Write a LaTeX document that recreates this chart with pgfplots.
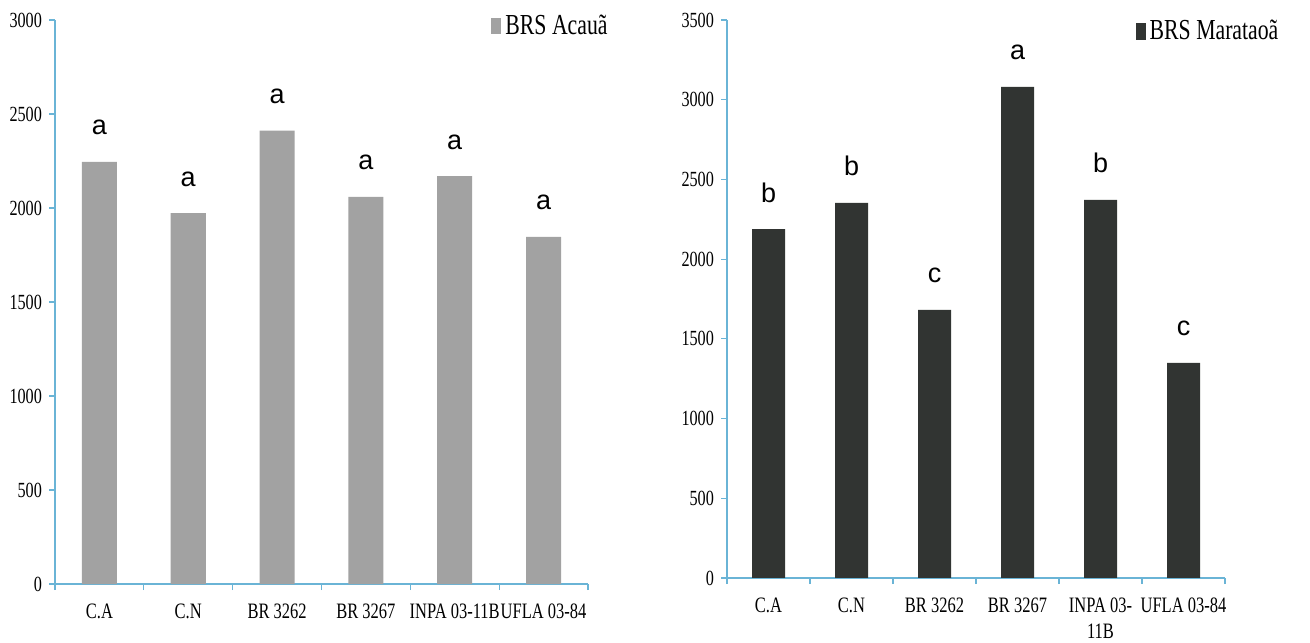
\documentclass[border=0pt]{standalone}
\usepackage{fontspec}
\setmainfont{Liberation Serif}[FakeStretch=0.75]
\newfontfamily\lettfont{Liberation Sans}
\usepackage{pgfplots}
\pgfplotsset{compat=1.18}
\definecolor{axisblue}{HTML}{6AB4D6}
\definecolor{lightbar}{HTML}{A2A2A2}
\definecolor{darkbar}{HTML}{313432}
\pgfplotsset{
  mystyle/.style={
    scale only axis,
    anchor=south west,
    axis x line*=bottom, axis y line*=left,
    axis line style={axisblue, line width=0.7pt},
    tick style={axisblue, line width=0.6pt},
    /pgf/number format/assume math mode=true,
    /pgf/number format/1000 sep={},
    xmin=0.5, xmax=6.5, ymin=0,
    xtick={0.5,1.5,...,6.5},
    xticklabels={},
    major tick length=3pt,
    tick align=outside,
    extra x ticks={1,2,3,4,5,6},
    extra x tick style={major tick length=0pt, xticklabel style={yshift=-6.5pt}},
    xticklabel style={font=\fontsize{11}{13}\selectfont, align=center, text=black},
    yticklabel style={font=\fontsize{10.8}{12}\selectfont, text=black},
    legend style={draw=none, fill=none, inner sep=0pt, anchor=north east,
      font=\fontsize{14.5}{16}\selectfont, legend cell align=left},
    every node near coord/.append style={anchor=base, yshift=13.5pt, text=black,
      font=\lettfont\fontsize{13.5}{15}\selectfont},
  }
}
\begin{document}
\begin{tikzpicture}
\useasboundingbox (0,0) rectangle (655pt,321pt);
% Left chart
\begin{axis}[mystyle,
  at={(27.5pt,29pt)}, width=266.5pt, height=282pt,
  ymax=3000, ytick={0,500,...,3000},
  extra x tick labels={C.A, C.N, BR 3262, BR 3267, INPA 03-11B, UFLA 03-84},
  legend style={at={(1.045,1.017)}},
  legend image code/.code={\fill[lightbar] (0pt,-4.2pt) rectangle (5pt,4.2pt);},
]
\addplot[ybar, bar width=17.5pt, fill=lightbar, draw=none,
  nodes near coords, point meta=explicit symbolic]
  coordinates {(1,2245)[a] (2,1973)[a] (3,2412)[a] (4,2059)[a] (5,2170)[a] (6,1846)[a]};
\addlegendentry{BRS Acauã}
\end{axis}
% Right chart
\begin{axis}[mystyle,
  at={(363.5pt,32pt)}, width=249pt, height=279pt,
  ymax=3500, ytick={0,500,...,3500},
  extra x tick labels={C.A, C.N, BR 3262, BR 3267, {INPA 03-\\11B}, UFLA 03-84},
  legend style={at={(1.116,1.008)}},
  legend image code/.code={\fill[darkbar] (0pt,-4.2pt) rectangle (5pt,4.2pt);},
]
\addplot[ybar, bar width=16.5pt, fill=darkbar, draw=none,
  nodes near coords, point meta=explicit symbolic]
  coordinates {(1,2189)[b] (2,2353)[b] (3,1681)[c] (4,3080)[a] (5,2371)[b] (6,1349)[c]};
\addlegendentry{BRS Marataoã}
\end{axis}
\end{tikzpicture}
\end{document}
